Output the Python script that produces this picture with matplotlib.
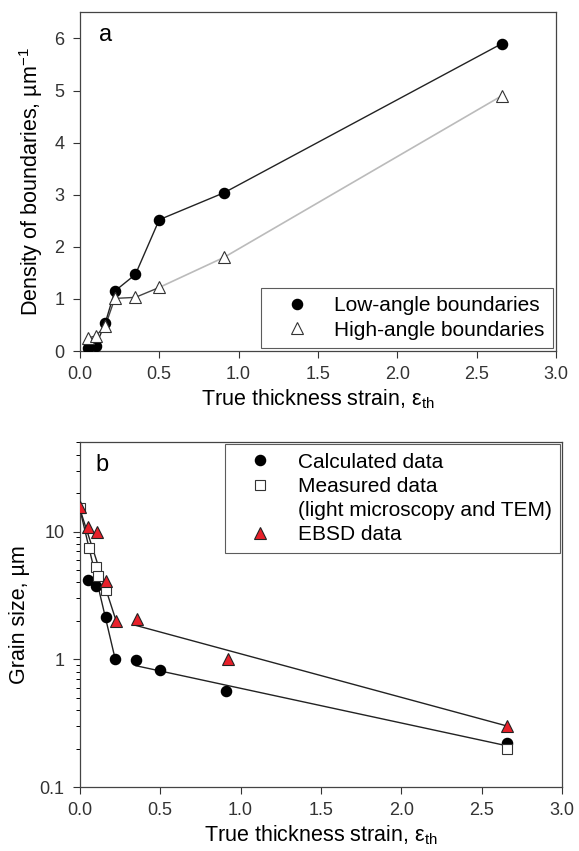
import matplotlib
matplotlib.use("Agg")
import matplotlib.pyplot as plt
from matplotlib.lines import Line2D

plt.rcParams['font.family'] = ['Liberation Sans', 'DejaVu Sans']
plt.rcParams['mathtext.default'] = 'regular'

# Panel a : densite des joints
x_low = [0.05, 0.10, 0.16, 0.22, 0.35, 0.50, 0.91, 2.66]
y_low = [0.05, 0.10, 0.54, 1.15, 1.47, 2.52, 3.04, 5.90]
x_high = [0.05, 0.10, 0.16, 0.22, 0.35, 0.50, 0.91, 2.66]
y_high = [0.25, 0.29, 0.48, 1.01, 1.03, 1.22, 1.80, 4.90]

# Panel b : taille de grains
x_calc = [0.05, 0.10, 0.16, 0.22, 0.35, 0.50, 0.91, 2.66]
y_calc = [4.2, 3.75, 2.13, 1.0, 0.99, 0.82, 0.56, 0.22]
x_meas = [0.0, 0.055, 0.10, 0.115, 0.165, 2.66]
y_meas = [15.3, 7.5, 5.3, 4.5, 3.5, 0.20]
x_ebsd = [0.0, 0.05, 0.105, 0.165, 0.225, 0.355, 0.92, 2.66]
y_ebsd = [15.5, 10.8, 10.0, 4.1, 2.0, 2.05, 1.0, 0.30]

# droites d'ajustement (extremites)
fit_calc_1 = ([0.0, 0.22], [15.0, 1.0])
fit_ebsd_1 = ([0.0, 0.22], [15.0, 2.1])
fit_calc_2 = ([0.35, 2.66], [0.89, 0.21])
fit_ebsd_2 = ([0.35, 2.66], [1.84, 0.30])

xt = [0, 0.5, 1.0, 1.5, 2.0, 2.5, 3.0]
xt_lab = ['0.0', '0.5', '1.0', '1.5', '2.0', '2.5', '3.0']

FS_TICK = 13
FS_LAB = 15.5
FS_LEG = 15

fig = plt.figure(figsize=(5.79, 8.51), dpi=100)

# ---- a ----
ax1 = fig.add_axes([0.138, 0.5875, 0.822, 0.398])
ax1.plot(x_low, y_low, color='#222222', lw=1.0, zorder=2)
ax1.plot(x_high[:6], y_high[:6], color='#444444', lw=1.0, zorder=1)
ax1.plot(x_high[5:], y_high[5:], color='#bbbbbb', lw=1.2, zorder=1)
ax1.plot(x_low, y_low, 'o', color='black', ms=7.3, ls='none', zorder=3)
ax1.plot(x_high, y_high, '^', mfc='white', mec='#333333', mew=0.8, ms=8, ls='none', zorder=4)
ax1.set_xlim(0, 3)
ax1.set_ylim(0, 6.5)
ax1.set_xticks(xt)
ax1.set_xticklabels(xt_lab)
ax1.set_yticks([0, 1, 2, 3, 4, 5, 6])
ax1.set_xlabel('True thickness strain, ε$_{th}$', fontsize=FS_LAB, labelpad=3)
ax1.set_ylabel('Density of boundaries, µm$^{-1}$', fontsize=FS_LAB, labelpad=7)
ax1.text(0.04, 0.932, 'a', transform=ax1.transAxes, fontsize=17, va='center')
h1 = [Line2D([], [], marker='o', color='black', ls='none', ms=7.3),
      Line2D([], [], marker='^', mfc='white', mec='#333333', mew=0.8, ls='none', ms=8)]
leg1 = ax1.legend(h1, ['Low-angle boundaries', 'High-angle boundaries'], loc='lower right',
                  fontsize=FS_LEG, frameon=True, fancybox=False, edgecolor='#333333',
                  handlelength=2.6, handletextpad=0.5, borderpad=0.4, labelspacing=0.25,
                  borderaxespad=0.15)
leg1.get_frame().set_linewidth(0.8)

# ---- b ----
ax2 = fig.add_axes([0.138, 0.0752, 0.8325, 0.405])
ax2.set_yscale('log')
ax2.plot(*fit_calc_1, color='#222222', lw=1.0)
ax2.plot(*fit_ebsd_1, color='#222222', lw=1.0)
ax2.plot(*fit_calc_2, color='#222222', lw=1.0)
ax2.plot(*fit_ebsd_2, color='#222222', lw=1.0)
ax2.plot(x_calc, y_calc, 'o', color='black', ms=7.3, ls='none', zorder=3)
ax2.plot(x_meas, y_meas, 's', mfc='white', mec='#333333', mew=0.8, ms=7, ls='none', zorder=4)
ax2.plot(x_ebsd, y_ebsd, '^', mfc='#e8202a', mec='#222222', mew=0.8, ms=8.5, ls='none', zorder=5)
ax2.set_xlim(0, 3)
ax2.set_ylim(0.1, 50)
ax2.set_xticks(xt)
ax2.set_xticklabels(xt_lab)
ax2.set_yticks([0.1, 1, 10])
ax2.set_yticklabels(['0.1', '1', '10'])
ax2.set_xlabel('True thickness strain, ε$_{th}$', fontsize=FS_LAB, labelpad=3)
ax2.set_ylabel('Grain size, µm', fontsize=FS_LAB, labelpad=7)
ax2.text(0.033, 0.933, 'b', transform=ax2.transAxes, fontsize=17, va='center')
h2 = [Line2D([], [], marker='o', color='black', ls='none', ms=7.3),
      Line2D([], [], marker='s', mfc='white', mec='#333333', mew=0.8, ls='none', ms=7),
      Line2D([], [], ls='none'),
      Line2D([], [], marker='^', mfc='#e8202a', mec='#222222', mew=0.8, ls='none', ms=8.5)]
leg2 = ax2.legend(h2, ['Calculated data', 'Measured data', '(light microscopy and TEM)', 'EBSD data'],
                  loc='upper right', fontsize=FS_LEG, frameon=True, fancybox=False, edgecolor='#333333',
                  handlelength=2.6, handletextpad=0.5, borderpad=0.4, labelspacing=0.25,
                  borderaxespad=0.1)
leg2.get_frame().set_linewidth(0.8)

for ax in (ax1, ax2):
    ax.tick_params(direction='out', length=5, width=0.8, pad=6, labelsize=FS_TICK,
                   colors='#333333')
    ax.tick_params(which='minor', direction='out', length=3, width=0.7)
    for s in ax.spines.values():
        s.set_linewidth(0.9)
        s.set_color('#444444')

fig.savefig('out.png', dpi=100)
